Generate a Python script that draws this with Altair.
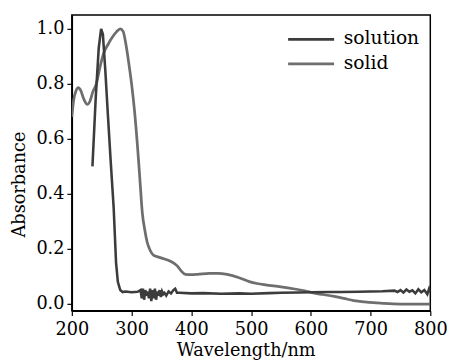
import altair as alt
import pandas as pd

# ---- data ----
solution_nm = [234.5, 240, 245, 249, 252, 256, 260, 265, 270, 274, 277, 281, 285, 290, 300, 310,
               315, 317, 319, 321, 323, 325, 327, 329, 331, 333, 335, 337, 339, 341, 343, 345,
               347, 349, 351, 353, 355, 358, 362, 366, 370, 373, 376, 380,
               400, 420, 450, 480, 500, 530, 550, 580, 600, 630, 650, 680, 700, 720,
               740, 745, 750, 755, 760, 765, 770, 775, 780, 785, 790, 795, 798, 800]
solution_abs = [0.50, 0.75, 0.93, 1.00, 0.98, 0.85, 0.70, 0.52, 0.35, 0.15, 0.08, 0.05, 0.043, 0.045, 0.042, 0.044,
                0.05, 0.02, 0.055, 0.015, 0.05, 0.03, 0.045, 0.02, 0.055, 0.01, 0.05, 0.02, 0.055, 0.015, 0.045, 0.03,
                0.05, 0.025, 0.045, 0.035, 0.04, 0.03, 0.045, 0.038, 0.05, 0.055, 0.04, 0.04,
                0.038, 0.039, 0.037, 0.038, 0.037, 0.039, 0.04, 0.041, 0.042, 0.043, 0.043, 0.044, 0.045, 0.046,
                0.048, 0.043, 0.05, 0.041, 0.052, 0.044, 0.049, 0.038, 0.053, 0.042, 0.05, 0.035, 0.055, 0.042]

solid_nm = [200, 203, 207, 211, 215, 220, 226, 230, 235, 241, 247, 253, 261, 268, 275, 281, 286, 290,
            295, 300, 305, 310, 314, 318, 322, 326, 331, 337, 345, 354, 365, 376, 383, 390, 400, 410,
            430, 445, 460, 480, 497, 510, 524, 550, 573, 590, 606, 620, 639, 655, 672, 690, 705, 720,
            738, 760, 800]
solid_abs = [0.68, 0.74, 0.775, 0.786, 0.775, 0.745, 0.725, 0.735, 0.77, 0.80, 0.86, 0.91, 0.945, 0.97, 0.99, 1.0, 0.99, 0.95,
             0.88, 0.80, 0.70, 0.57, 0.45, 0.33, 0.27, 0.225, 0.195, 0.176, 0.17, 0.164, 0.155, 0.139, 0.12, 0.107, 0.106, 0.107,
             0.111, 0.111, 0.107, 0.095, 0.081, 0.074, 0.069, 0.062, 0.054, 0.047, 0.039, 0.034, 0.027, 0.02, 0.012, 0.007, 0.004, 0.002,
             0.0, -0.001, -0.001]

series_names = ["solution", "solid"]
series_colors = ["#3c3c3c", "#6e6e6e"]
x_ticks = [200, 300, 400, 500, 600, 700, 800]
y_ticks = [0.0, 0.1, 0.2, 0.3, 0.4, 0.5, 0.6, 0.7, 0.8, 0.9, 1.0]

# legend layout (placement in data units, inside the plot's top-right corner)
legend_row_y = [0.962, 0.873]
legend_line_x = (562, 639)
legend_text_x = 655

df_solution = pd.DataFrame({"nm": solution_nm, "abs": solution_abs, "series": "solution"})
df_solid = pd.DataFrame({"nm": solid_nm, "abs": solid_abs, "series": "solid"})
df_legend = pd.DataFrame({"series": series_names, "y": legend_row_y,
                          "x1": legend_line_x[0], "x2": legend_line_x[1], "tx": legend_text_x})

FONT = "DejaVu Serif"

x_scale = alt.Scale(domain=[200, 800], nice=False, zero=False)
y_scale = alt.Scale(domain=[-0.025, 1.05], nice=False, zero=False)
color_scale = alt.Scale(domain=series_names, range=series_colors)

x_enc = alt.X("nm:Q", scale=x_scale,
              axis=alt.Axis(values=x_ticks, title="Wavelength/nm", format="d", labelPadding=5,
                            titleX=177, titleY=46, titleBaseline="alphabetic"))
y_enc = alt.Y("abs:Q", scale=y_scale,
              axis=alt.Axis(values=y_ticks, title="Absorbance",
                            labelExpr="round(datum.value*10) % 2 == 0 ? format(datum.value, '.1f') : ''",
                            titleX=-53, titleY=172, titleAngle=-90, titleAlign="center",
                            titleBaseline="middle"))
color_enc = alt.Color("series:N", scale=color_scale, legend=None)

line_solution = alt.Chart(df_solution).mark_line(strokeWidth=2.6, clip=True).encode(
    x=x_enc, y=y_enc, color=color_enc)
line_solid = alt.Chart(df_solid).mark_line(strokeWidth=2.8, interpolate="monotone", clip=True).encode(
    x=x_enc, y=y_enc, color=color_enc)

legend_lines = alt.Chart(df_legend).mark_rule(strokeWidth=2.8).encode(
    x=alt.X("x1:Q", scale=x_scale), x2="x2:Q",
    y=alt.Y("y:Q", scale=y_scale), color=color_enc)
legend_text = alt.Chart(df_legend).mark_text(
    align="left", baseline="middle", font=FONT, fontSize=19, color="black", dy=-1).encode(
    x=alt.X("tx:Q", scale=x_scale), y=alt.Y("y:Q", scale=y_scale), text="series:N")

chart = alt.layer(line_solid, line_solution, legend_lines, legend_text).properties(
    width=365, height=301,
    autosize=alt.AutoSizeParams(type="none"),
    padding={"left": 65, "top": 4, "right": 17, "bottom": 50},
).configure_view(
    stroke="black", strokeWidth=1.5
).configure_axis(
    labelFont=FONT, titleFont=FONT, labelFontSize=18, titleFontSize=18,
    titleFontWeight="normal", labelColor="black", titleColor="black",
    domainColor="black", domainWidth=1.5, tickColor="black", tickWidth=1.2, tickSize=5,
    grid=False, labelFlush=False, labelOverlap=False, labelPadding=3,
)

chart.save("out.html", embed_options={"renderer": "svg", "actions": False})
